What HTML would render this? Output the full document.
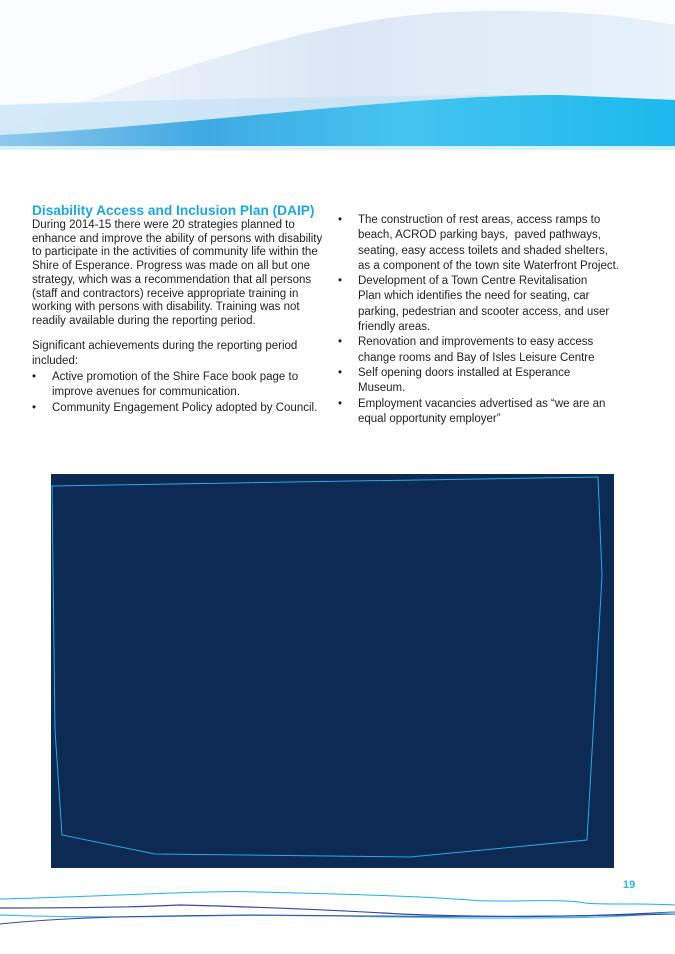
<!DOCTYPE html>
<html><head><meta charset="utf-8"><style>
body{margin:0;width:675px;height:954px;position:relative;background:#fff;overflow:hidden;font-family:"Liberation Sans",sans-serif;color:#231f20}
.t{position:absolute;font-size:11.5px;line-height:15.3px;white-space:nowrap}
h1{position:absolute;left:32px;top:203px;margin:0;font-size:13.7px;color:#1ca7e3;font-weight:bold;white-space:nowrap}
ul{margin:0;padding:0;list-style:none}
li{position:relative;padding-left:20px}
li:before{content:"•";position:absolute;left:0}
p{margin:0}
</style></head><body>
<svg width="675" height="160" style="position:absolute;left:0;top:0">
<defs>
<linearGradient id="a" x1="0" y1="0" x2="1" y2="0"><stop offset="0" stop-color="#f4f9fd"/><stop offset="0.5" stop-color="#dbe7f5"/><stop offset="1" stop-color="#e6f1fa"/></linearGradient>
<linearGradient id="b" x1="0" y1="0" x2="1" y2="0"><stop offset="0" stop-color="#8fc8ec"/><stop offset="0.3" stop-color="#3fa9e2"/><stop offset="0.6" stop-color="#45c4f0"/><stop offset="1" stop-color="#1cb8ec"/></linearGradient>
</defs>
<rect width="675" height="150" fill="#fafcfe"/>
<path d="M0 130 C150 80 300 20 450 12 C560 8 620 15 675 25 L675 150 L0 150Z" fill="url(#a)"/>
<path d="M0 105 C150 100 350 95 560 95 L675 100 L675 150 L0 150Z" fill="#c4e3f6" opacity="0.7"/>
<path d="M0 135 C200 125 400 95 560 95 L675 100 L675 150 L0 150Z" fill="url(#b)"/>
<rect y="146" width="675" height="4" fill="#d9f1fb"/>
</svg>
<h1>Disability Access and Inclusion Plan (DAIP)</h1>
<div class="t" style="left:32px;top:219px">
<p style="line-height:13.7px">During 2014-15 there were 20 strategies planned to<br>enhance and improve the ability of persons with disability<br>to participate in the activities of community life within the<br>Shire of Esperance. Progress was made on all but one<br>strategy, which was a recommendation that all persons<br>(staff and contractors) receive appropriate training in<br>working with persons with disability. Training was not<br>readily available during the reporting period.</p>
<p style="position:absolute;top:120px;left:0">Significant achievements during the reporting period<br>included:</p>
<ul style="position:absolute;top:151px;left:0"><li>Active promotion of the Shire Face book page to<br>improve avenues for communication.</li>
<li>Community Engagement Policy adopted by Council.</li></ul>
</div>
<div class="t" style="left:338px;top:213px">
<ul><li>The construction of rest areas, access ramps to<br>beach, ACROD parking bays,&nbsp; paved pathways,<br>seating, easy access toilets and shaded shelters,<br>as a component of the town site Waterfront Project.</li>
<li>Development of a Town Centre Revitalisation<br>Plan which identifies the need for seating, car<br>parking, pedestrian and scooter access, and user<br>friendly areas.</li>
<li>Renovation and improvements to easy access<br>change rooms and Bay of Isles Leisure Centre</li>
<li>Self opening doors installed at Esperance<br>Museum.</li>
<li>Employment vacancies advertised as “we are an<br>equal opportunity employer”</li></ul>
</div>
<svg width="675" height="954" style="position:absolute;left:0;top:0">
<rect x="51" y="474" width="563" height="394" fill="#0c2a52"/>
<path d="M52 486 L598 477 L602 576 L587 840 L410 857 L155 854 L62 835 L55 730 Z" fill="none" stroke="#2aa9e6" stroke-width="1"/>
<text x="623" y="888" font-family="Liberation Sans,sans-serif" font-size="11" font-weight="bold" fill="#2bb4ec">19</text>
<path d="M0 899 C100 897 200 890 260 892 C330 894 400 895 470 900 C500 903 560 898 585 903 C600 905 640 903 675 905" fill="none" stroke="#1db1ea" stroke-width="1"/>
<path d="M0 908 C80 908 140 907 180 905 C220 906 300 908 400 914 C500 918 580 917 675 912" fill="none" stroke="#3a4a9c" stroke-width="1.2"/>
<path d="M0 915 C40 916 60 918 200 916 C300 914 400 918 500 918 C560 918 620 918 675 912" fill="none" stroke="#3bbcee" stroke-width="1.2"/>
<path d="M0 924 C60 918 120 916 250 915 C400 916 500 918 675 914" fill="none" stroke="#3a4a9c" stroke-width="1"/>
</svg>
</body></html>
